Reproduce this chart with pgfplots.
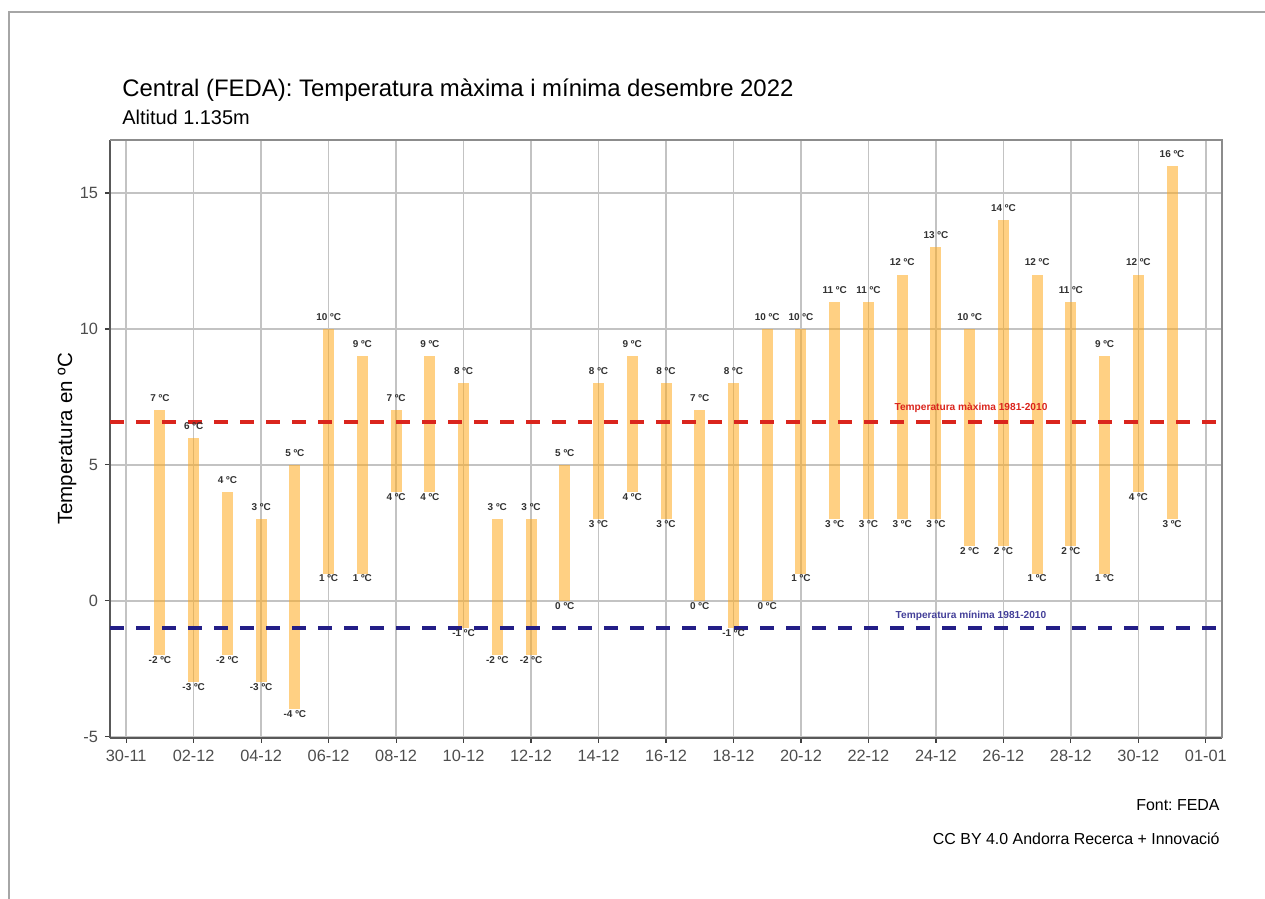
\documentclass[border=0pt]{standalone}
\usepackage{pgfplots}
\pgfplotsset{compat=1.18}
\usepackage{pgfplotstable}
\usepackage{fontspec}
\setmainfont{Liberation Sans}
\frenchspacing
\definecolor{gridgray}{RGB}{195,195,195}
\definecolor{barcol}{RGB}{255,170,30}
\definecolor{maxred}{RGB}{218,37,29}
\definecolor{minblue}{RGB}{35,30,135}
\definecolor{ticktxt}{RGB}{77,77,77}
\definecolor{labtxt}{RGB}{50,50,50}

\pgfplotstableread{
d hi lo
1 7 -2
2 6 -3
3 4 -2
4 3 -3
5 5 -4
6 10 1
7 9 1
8 7 4
9 9 4
10 8 -1
11 3 -2
12 3 -2
13 5 0
14 8 3
15 9 4
16 8 3
17 7 0
18 8 -1
19 10 0
20 10 1
21 11 3
22 11 3
23 12 3
24 13 3
25 10 2
26 14 2
27 12 1
28 11 2
29 9 1
30 12 4
31 16 3
}\temps

\begin{document}
\begin{tikzpicture}
% outer frame
\draw[gray!70, line width=0.6bp] (4.5bp,0bp) -- (4.5bp,443.5bp) -- (640bp,443.5bp);
% titles
\node[anchor=base west, inner sep=0pt, font=\fontsize{12}{14}\selectfont] at (61bp,401bp) {Central (FEDA): Temperatura màxima i mínima desembre 2022};
\node[anchor=base west, inner sep=0pt, font=\fontsize{10}{12}\selectfont] at (61bp,387bp) {Altitud 1.135m};
% captions
\node[anchor=base east, inner sep=0pt, font=\fontsize{8}{10}\selectfont] at (610bp,44bp) {Font: FEDA};
\node[anchor=base east, inner sep=0pt, font=\fontsize{8}{10}\selectfont] at (610bp,27.5bp) {CC BY 4.0 Andorra Recerca + Innovació};

\begin{axis}[
  at={(55bp,80.5bp)}, anchor=south west,
  scale only axis, width=556bp, height=299bp,
  xmin=-0.48, xmax=32.48, ymin=-5.05, ymax=16.95,
  xtick={0,2,...,32},
  xticklabels={30-11,02-12,04-12,06-12,08-12,10-12,12-12,14-12,16-12,18-12,20-12,22-12,24-12,26-12,28-12,30-12,01-01},
  ytick={-5,0,5,10,15}, yticklabels={-5,0,5,10,15},
  minor tick num=0,
  grid=major, grid style={gridgray, line width=0.8bp},
  axis lines=left, axis line style={-, draw=black!65, line width=0.8bp},
  tick align=outside, major tick length=2.5bp,
  tick style={black!75, line width=0.6bp},
  tick label style={font=\fontsize{8.2}{10}\selectfont, text=ticktxt},
  /pgf/number format/assume math mode=true,
  every axis y label/.style={at={(axis description cs:-0.0387,0.5)}, rotate=90, anchor=center},
  ylabel={Temperatura en ºC},
  label style={font=\fontsize{10.3}{12}\selectfont},
  clip=false,
  after end axis/.code={
    \draw[black!45, line width=0.8bp] (rel axis cs:0,1) -- (rel axis cs:1,1) -- (rel axis cs:1,0);
  },
]
% bars (from minimum to maximum)
\addplot[draw=none, mark=none,
  error bars/.cd, y dir=plus, y explicit, error mark=none,
  error bar style={draw=barcol, draw opacity=0.55, line width=5.5bp}]
  table[x=d, y=lo, y error plus expr=\thisrow{hi}-\thisrow{lo}] {\temps};
% reference lines
\addplot[maxred, line width=2bp, dash pattern=on 7bp off 6bp] coordinates {(-0.48,6.58) (32.48,6.58)};
\addplot[minblue, line width=2bp, dash pattern=on 7bp off 6bp] coordinates {(-0.48,-0.99) (32.48,-0.99)};
% value labels
\addplot[draw=none, mark=none, point meta=explicit symbolic,
  nodes near coords={\pgfplotspointmeta~ºC},
  nodes near coords style={anchor=center, yshift=6bp, inner sep=0pt, font=\fontsize{5}{6}\selectfont\bfseries, text=labtxt}]
  table[x=d, y=hi, meta=hi] {\temps};
\addplot[draw=none, mark=none, point meta=explicit symbolic,
  nodes near coords={\pgfplotspointmeta~ºC},
  nodes near coords style={anchor=center, yshift=-2.5bp, inner sep=0pt, font=\fontsize{5}{6}\selectfont\bfseries, text=labtxt}]
  table[x=d, y=lo, meta=lo] {\temps};
\node[text=maxred, font=\fontsize{5.1}{6}\selectfont\bfseries, inner sep=0pt] at (axis cs:25.04,7.08) {Temperatura màxima 1981-2010};
\node[text=minblue!85!white, font=\fontsize{5.1}{6}\selectfont\bfseries, inner sep=0pt] at (axis cs:25.04,-0.55) {Temperatura mínima 1981-2010};
\end{axis}
\pgfresetboundingbox
\useasboundingbox (0bp,0bp) rectangle (632.5bp,449.5bp);
\end{tikzpicture}
\end{document}
